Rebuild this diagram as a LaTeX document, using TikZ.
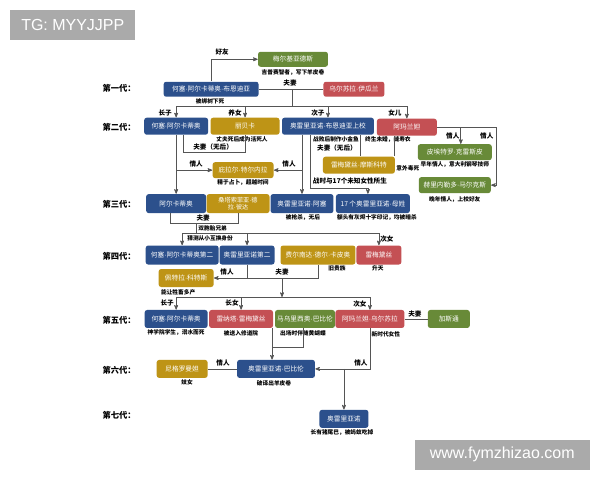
\documentclass[tikz,border=0pt]{standalone}
\usepackage{fontspec}
\usepackage{tikz}
\usetikzlibrary{arrows,positioning}
\setmainfont{Liberation Sans}
\newfontfamily\cjk{Noto Sans CJK SC}
\newcommand\pdot{{\rmfamily ·}}
\definecolor{famblue}{RGB}{44,80,140}
\definecolor{famred}{RGB}{196,80,84}
\definecolor{famgold}{RGB}{190,148,22}
\definecolor{famgreen}{RGB}{104,138,56}
\definecolor{famline}{RGB}{85,85,85}
\definecolor{markgrey}{RGB}{170,170,170}
\tikzset{
    %Define standard arrow tip
    >=stealth',
    %Define style for boxes
    person/.style={
           rectangle,
           rounded corners=2.5pt,
           minimum height=17pt,
           inner sep=1pt,
           text=white,
           font=\cjk\fontsize{6.7}{7.6}\selectfont,
           text centered},
    bluep/.style={person, fill=famblue},
    redp/.style={person, fill=famred},
    goldp/.style={person, fill=famgold},
    greenp/.style={person, fill=famgreen},
    % Define text styles
    note/.style={
           inner sep=0pt,
           font=\cjk\bfseries\fontsize{5.7}{6.5}\selectfont},
    rel/.style={
           inner sep=0pt,
           font=\cjk\bfseries\fontsize{6.6}{7.6}\selectfont},
    gen/.style={
           anchor=west,
           inner sep=0pt,
           font=\cjk\bfseries\fontsize{8.3}{9}\selectfont},
    wmark/.style={
           fill=markgrey,
           text=white,
           inner sep=0pt,
           font=\fontsize{16}{18}\selectfont},
    % Define connector style
    conn/.style={
           draw=famline,
           line width=0.7pt}
}

\begin{document}
\begin{tikzpicture}[x=1pt,y=-1pt,every path/.style={conn}]
\useasboundingbox (0,0) rectangle (600,480);
\fill[white] (0,0) rectangle (600,480);

 %watermarks
\node[wmark, minimum width=125pt, minimum height=30pt] (tg) at (72.5,25) {TG: MYYJJPP};
\node[wmark, minimum width=175pt, minimum height=30pt] (web) at (502.5,455) {www.fymzhizao.com};

 %generations
\node[gen] (g1) at (102,88) {第一代：};
\node[gen] (g2) at (102,127) {第二代：};
\node[gen] (g3) at (102,204) {第三代：};
\node[gen] (g4) at (102,256) {第四代：};
\node[gen] (g5) at (102,320) {第五代：};
\node[gen] (g6) at (102,370) {第六代：};
\node[gen] (g7) at (102,415) {第七代：};

 %first generation
\node[greenp, minimum width=70pt, minimum height=15pt] (mel) at (293,59) {梅尔基亚德斯};
\node[bluep, minimum width=95pt, minimum height=15pt] (jab) at (211,89) {何塞\pdot 阿尔卡蒂奥\pdot 布恩迪亚};
\node[redp, minimum width=61pt, minimum height=15pt] (urs) at (354,89) {乌尔苏拉\pdot 伊瓜兰};

 %second generation
\node[bluep, minimum width=64pt] (ja2) at (176,126) {何塞\pdot 阿尔卡蒂奥};
\node[goldp, minimum width=69pt] (reb) at (245,126) {丽贝卡};
\node[bluep, minimum width=92pt] (aurc) at (328,126) {奥雷里亚诺\pdot 布恩迪亚上校};
\node[redp, minimum width=60pt] (ama) at (407,127) {阿玛兰妲};
\node[goldp, minimum width=61pt, minimum height=16pt] (pil) at (243,170) {庇拉尔\pdot 特尔内拉};
\node[goldp, minimum width=72pt] (remm) at (359,165) {雷梅黛丝\pdot 摩斯科特};
\node[greenp, minimum width=74pt, minimum height=16pt] (pie) at (455,152) {皮埃特罗\pdot 克雷斯皮};
\node[greenp, minimum width=72pt, minimum height=16pt] (ger) at (455,185) {赫里内勒多\pdot 马尔克斯};

 %third generation
\node[bluep, minimum width=60pt, minimum height=19pt] (arc) at (176,203.5) {阿尔卡蒂奥};
\node[goldp, minimum width=63pt, minimum height=19pt, align=center,
      font=\cjk\fontsize{6.2}{7}\selectfont] (san) at (238,203.5) {桑塔索菲亚\pdot 德\\拉\pdot 彼达};
\node[bluep, minimum width=63pt, minimum height=19pt] (aura) at (302,203.5) {奥雷里亚诺\pdot 阿塞};
\node[bluep, minimum width=74pt, minimum height=19pt] (a17) at (373,203.5) {17 个奥雷里亚诺\pdot 母姓};

 %fourth generation
\node[bluep, minimum width=73pt, minimum height=19pt] (jas) at (182,255) {何塞\pdot 阿尔卡蒂奥第二};
\node[bluep, minimum width=55pt, minimum height=19pt] (aus) at (247,255) {奥雷里亚诺第二};
\node[goldp, minimum width=75pt, minimum height=19pt] (fer) at (318,255) {费尔南达\pdot 德尔\pdot 卡皮奥};
\node[redp, minimum width=45pt, minimum height=19pt] (rem) at (379,255) {雷梅黛丝};
\node[goldp, minimum width=55pt, minimum height=18pt] (pet) at (186,278) {佩特拉\pdot 科特斯};

 %fifth generation
\node[bluep, minimum width=63pt, minimum height=18pt] (ja5) at (176,319) {何塞\pdot 阿尔卡蒂奥};
\node[redp, minimum width=64pt, minimum height=18pt] (ren) at (241,319) {雷纳塔\pdot 雷梅黛丝};
\node[greenp, minimum width=60pt, minimum height=18pt] (mau) at (305,319) {马乌里西奥\pdot 巴比伦};
\node[redp, minimum width=69pt, minimum height=18pt] (amu) at (370,319) {阿玛兰妲\pdot 乌尔苏拉};
\node[greenp, minimum width=42pt, minimum height=18pt] (gas) at (449,319) {加斯通};

 %sixth and seventh generation
\node[goldp, minimum width=51pt, minimum height=18pt] (nig) at (182,369) {尼格罗曼妲};
\node[bluep, minimum width=78pt, minimum height=18pt] (aub) at (276,369) {奥雷里亚诺\pdot 巴比伦};
\node[bluep, minimum width=49pt, minimum height=18pt] (aur7) at (344,419) {奥雷里亚诺};

 %notes
\node[note] (n1) at (293,72) {吉普赛智者，写下羊皮卷};
\node[note] (n2) at (210,101) {被绑树下死};
\node[note] (n3) at (242,139.5) {丈夫死后成为活死人};
\node[note] (n4) at (336,139.5) {战败后制作小金鱼};
\node[note] (n5) at (388,139.5) {终生未婚，缝寿衣};
\node[note] (n6) at (243,182) {精于占卜，超越时间};
\node[note] (n7) at (408,168) {意外毒死};
\node[note] (n8) at (455,164) {早年情人，意大利钢琴技师};
\node[note] (n9) at (455,199) {晚年情人，上校好友};
\node[note] (n10) at (303,217) {被枪杀，无后};
\node[note] (n11) at (377,217) {额头有灰烬十字印记，均被暗杀};
\node[note, anchor=west] (n12) at (198,228) {双胞胎兄弟};
\node[note] (n13) at (210,238) {猜测从小互换身份};
\node[note] (n14) at (337,268.5) {旧贵族};
\node[note] (n15) at (378,268.5) {升天};
\node[note] (n16) at (178,292) {能让牲畜多产};
\node[note] (n17) at (176,333) {神学院学生，溺水而死};
\node[note] (n18) at (241,333) {被送入修道院};
\node[note] (n19) at (303,333) {出场时伴随黄蝴蝶};
\node[note] (n20) at (386,334) {新时代女性};
\node[note] (n21) at (187,382) {妓女};
\node[note] (n22) at (274,383) {破译出羊皮卷};
\node[note] (n23) at (342,433) {长有猪尾巴，被蚂蚁吃掉};

 %relation labels
\node[rel] (r1) at (222,52) {好友};
\node[rel] (r2) at (290,83) {夫妻};
\node[rel] (r3) at (165,113) {长子};
\node[rel] (r4) at (235,113) {养女};
\node[rel] (r5) at (318,113) {次子};
\node[rel] (r6) at (395,113) {女儿};
\node[rel] (r7) at (213,146.5) {夫妻（无后）};
\node[rel] (r8) at (337,148) {夫妻（无后）};
\node[rel] (r9) at (196,164) {情人};
\node[rel] (r10) at (289,164) {情人};
\node[rel] (r11) at (453,135.5) {情人};
\node[rel] (r12) at (487,135.5) {情人};
\node[rel] (r13) at (350,181) {战时与17个未知女性所生};
\node[rel] (r14) at (203,218) {夫妻};
\node[rel] (r15) at (387,239) {次女};
\node[rel] (r16) at (227,272) {情人};
\node[rel] (r17) at (282,272) {夫妻};
\node[rel] (r18) at (167,303) {长子};
\node[rel] (r19) at (232,303) {长女};
\node[rel] (r20) at (360,304) {次女};
\node[rel] (r21) at (415,314) {夫妻};
\node[rel] (r22) at (223,363.5) {情人};
\node[rel] (r23) at (361,363.5) {情人};

 %junction points
\coordinate (g2drop) at (292,89);
\coordinate (g2bar) at (292,106);
\coordinate (colbranch) at (310,188);
\coordinate (amaturn) at (497,127);
\coordinate (twinjoin) at (196,223);
\coordinate (twinbar) at (196,233);
\coordinate (g4join) at (282,278);
\coordinate (g4bar) at (282,297);
\coordinate (babjoin) at (272,347);

 %first generation lines
\draw[->] (jab.north) |- (mel.west);
\draw (jab.east) -- (urs.west);
\draw (g2drop) -- (g2bar);
\draw[->] (g2bar) -| (ja2.north);
\draw[->] (g2bar) -| (reb.north);
\draw[->] (g2bar) -| (aurc.north);
\draw[->] (g2bar) -| (ama.north);

 %second generation lines
\draw ([xshift=7pt]ja2.south) -- ++(0,17.5) -| (reb.south);
\draw[->] (ja2.south) -- (arc.north);
\draw[->] (ja2.south |- pil.west) -- (pil.west);
\draw[->] ([xshift=-26pt]aurc.south) -- (aura.north);
\draw[->] (aura.north |- pil.east) -- (pil.east);
\draw ([xshift=-18pt]aurc.south) -- (colbranch);
\draw[->] (colbranch) -| ([xshift=-5pt]a17.north);
\draw ([xshift=32pt]aurc.south) -- ([xshift=1pt]remm.north);
\draw ([xshift=-13pt]ama.south) -- ([xshift=35pt]remm.north);
\draw[->] (ama.east) -- (amaturn) |- (ger.east);
\draw[->] ([xshift=6pt]pie.north |- ama.east) -- ([xshift=6pt]pie.north);

 %third generation lines
\draw ([xshift=-6pt]arc.south) |- (twinjoin) -| (san.south);
\draw (twinjoin) -- (twinbar);
\draw[->] (twinbar) -| (jas.north);
\draw[->] (twinbar) -| (aus.north);
\draw[->] (twinbar) -| (rem.north);

 %fourth generation lines
\draw[->] (aus.south) |- (pet.east);
\draw (aus.south |- pet.east) -| (fer.south);
\draw[->] (g4join) -- (g4bar);
\draw[->] (g4bar) -| (ja5.north);
\draw[->] (g4bar) -| (ren.north);
\draw[->] (g4bar) -| (amu.north);

 %fifth and sixth generation lines
\draw (amu.east) -- (gas.west);
\draw ([xshift=-2pt]mau.south) |- (babjoin);
\draw[->] ([xshift=31pt]ren.south) -- ([xshift=-4pt]aub.north);
\draw (nig.east) -- (aub.west);
\draw[->] (amu.south) |- (aub.east);
\draw[->] (aur7.north |- aub.east) -- (aur7.north);

\end{tikzpicture}
\end{document}
